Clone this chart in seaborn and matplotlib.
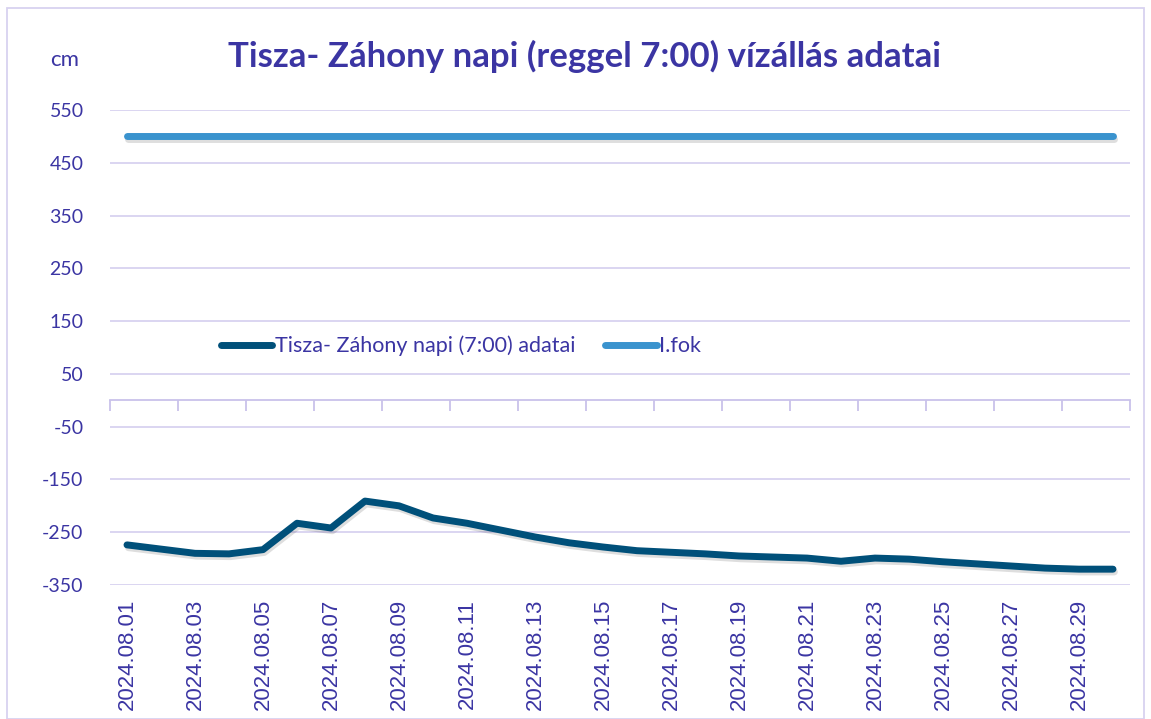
import matplotlib
matplotlib.use("Agg")
import matplotlib.pyplot as plt
import matplotlib.patheffects as pe
from matplotlib.patches import Rectangle
from matplotlib.lines import Line2D
import seaborn as sns
import pandas as pd
import numpy as np

dates = [f"2024.08.{d:02d}" for d in range(1, 31)]
water_level = [-274, -282, -290, -291, -283, -233, -242, -191, -200, -223,
               -233, -246, -259, -270, -278, -285, -288, -291, -295, -297,
               -299, -305, -299, -301, -306, -310, -314, -318, -320, -320]
level_one = [500] * 30
series_names = ["Tisza- Záhony napi (7:00) adatai", "I.fok"]
yticks = [-350, -250, -150, -50, 50, 150, 250, 350, 450, 550]

df = pd.DataFrame({"date": dates, "pos": range(len(dates)),
                   series_names[0]: water_level, series_names[1]: level_one})
long = df.melt(id_vars=["date", "pos"], var_name="series", value_name="cm")

sns.set_theme(style="white")
plt.rcParams['font.family'] = ['Lato', 'DejaVu Sans']
txt = "#3B35A3"
grid_c = "#D8D2F0"
c_dark = "#00507A"
c_light = "#3A93CE"

fig = plt.figure(figsize=(11.51, 7.19), dpi=100)
ax = fig.add_axes([110/1151, 1-585/719, 1020/1151, 475/719])

shadow = [pe.SimpleLineShadow(offset=(1.0, -2.0), shadow_color="black", alpha=0.13),
          pe.Normal()]
sns.lineplot(data=long, x="pos", y="cm", hue="series",
             palette={series_names[0]: c_dark, series_names[1]: c_light},
             linewidth=5, ax=ax, sort=False, legend=False)
for ln in ax.lines:
    ln.set_solid_capstyle("round")
    ln.set_solid_joinstyle("round")
    ln.set_path_effects(shadow)

ax.set_xlim(-0.5, len(dates) - 0.5)
ax.set_ylim(-350, 550)
ax.set_yticks(yticks)
ax.set_yticklabels([str(v) for v in yticks], color=txt, fontsize=14)
ax.tick_params(axis="y", length=0, pad=19)
ax.yaxis.grid(True, color=grid_c, linewidth=1.3)
ax.xaxis.grid(False)
for s in ax.spines.values():
    s.set_visible(False)

ax.set_xticks(range(0, len(dates), 2))
ax.set_xticklabels(dates[::2], rotation=90, color=txt, fontsize=16,
                   family=["Liberation Sans"])
ax.tick_params(axis="x", length=0, pad=10)
ax.set_xlabel("")
ax.set_ylabel("")

# axis line crossing at zero
zero_frac = (0 - (-350)) / 900
sec = ax.secondary_xaxis(zero_frac)
sec.spines["bottom"].set_color("#C9C2EA")
sec.spines["bottom"].set_linewidth(1.3)
sec.set_xticks(np.arange(-0.5, len(dates), 2))
sec.set_xticklabels([])
sec.tick_params(axis="x", length=8, width=1.3, color="#C9C2EA", direction="out")

# legend
handles = [Line2D([], [], color=c_dark, lw=5, solid_capstyle="round"),
           Line2D([], [], color=c_light, lw=5, solid_capstyle="round")]
leg = ax.legend(handles, series_names, loc="center", bbox_to_anchor=(0.344, 0.503),
                ncol=2, frameon=False, fontsize=15.5, handlelength=2.4,
                handletextpad=0.1, columnspacing=1.4)
for t in leg.get_texts():
    t.set_color(txt)

fig.text(0.508, 0.921, "Tisza- Záhony napi (reggel 7:00) vízállás adatai",
         ha="center", va="center", fontsize=25, fontweight="bold", color=txt)
fig.text(65/1151, 1-60/719, "cm", ha="center", va="center", fontsize=16, color=txt)

fig.patches.append(Rectangle((7/1151, 0), 1-14/1151, 1-8/719, transform=fig.transFigure,
                             fill=False, edgecolor="#D8D2F0", linewidth=1.3))

fig.savefig("out.png", dpi=100)
